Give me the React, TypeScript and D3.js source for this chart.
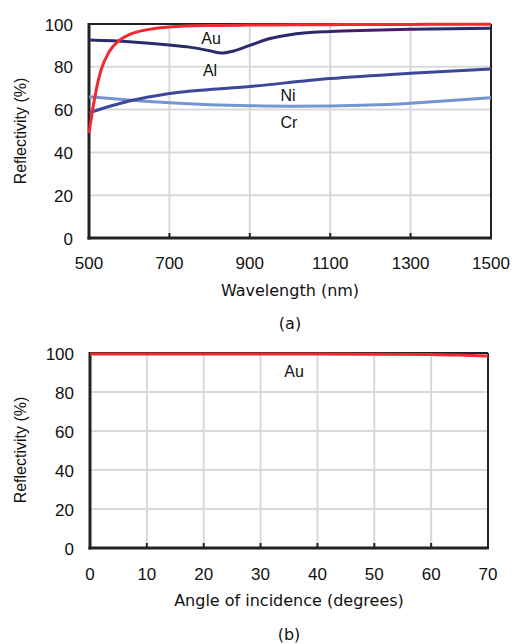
import React from "react";
import * as d3 from "d3";

// (a) reflectivity vs wavelength
const wlTicks = [500, 700, 900, 1100, 1300, 1500];
const reflTicks = [0, 20, 40, 60, 80, 100];

const auWl = [500, 510, 520, 530, 550, 575, 600, 650, 700, 800, 900, 1000, 1100, 1200, 1300, 1400, 1500];
const auRefl = [49, 61, 71, 78.5, 87, 92.3, 95, 97.5, 98.6, 99.3, 99.5, 99.6, 99.7, 99.8, 99.8, 99.9, 99.9];

const alWl = [500, 600, 700, 750, 800, 830, 860, 900, 950, 1000, 1100, 1200, 1300, 1400, 1500];
const alRefl = [92.5, 91.7, 90.2, 89.2, 87.5, 86.4, 87.4, 90, 93.2, 95, 96.5, 97.1, 97.5, 97.8, 98];

const niWl = [500, 600, 700, 900, 1100, 1300, 1500];
const niRefl = [58.5, 64, 67.5, 70.8, 74.5, 77, 79];

const crWl = [500, 600, 700, 800, 900, 1000, 1100, 1200, 1300, 1400, 1500];
const crRefl = [66, 64.5, 63.2, 62.3, 61.8, 61.6, 61.7, 62.1, 63, 64.2, 65.6];

// (b) Au reflectivity vs angle of incidence
const angleTicks = [0, 10, 20, 30, 40, 50, 60, 70];
const auAngle = [0, 10, 20, 30, 40, 50, 60, 65, 70];
const auAngleRefl = [99.5, 99.5, 99.5, 99.5, 99.5, 99.4, 99.2, 99, 98.5];

const tickFont = "'Liberation Sans', Arial, sans-serif";
const titleFont = "'DejaVu Sans', sans-serif";

type Series = { xs: number[]; ys: number[]; color: string };

function Panel(props: {
  x0: number; x1: number; y0: number; y1: number;
  xDomain: [number, number]; xTicks: number[];
  series: Series[];
  labels: { text: string; x: number; y: number }[];
  xTitle: string; caption: string;
  tickY: number; titleY: number; captionY: number; yTitleY: number;
}) {
  const x = d3.scaleLinear().domain(props.xDomain).range([props.x0, props.x1]);
  const y = d3.scaleLinear().domain([0, 100]).range([props.y0, props.y1]);
  const line = d3.line<[number, number]>()
    .x(d => x(d[0]))
    .y(d => y(d[1]))
    .curve(d3.curveMonotoneX);
  const cx = (props.x0 + props.x1) / 2;
  return (
    <g>
      {reflTicks.map(t => (
        <line key={"gy" + t} x1={props.x0} x2={props.x1} y1={y(t)} y2={y(t)} stroke="#d9d9d9" strokeWidth={2} />
      ))}
      {props.xTicks.map(t => (
        <line key={"gx" + t} x1={x(t)} x2={x(t)} y1={props.y0} y2={props.y1} stroke="#d9d9d9" strokeWidth={2} />
      ))}
      {props.xTicks.map(t => (
        <line key={"tk" + t} x1={x(t)} x2={x(t)} y1={props.y0} y2={props.y0 - 5} stroke="#222" strokeWidth={2} />
      ))}
      <line x1={props.x0} x2={props.x1} y1={props.y1} y2={props.y1} stroke="#222" strokeWidth={2} />
      <line x1={props.x1} x2={props.x1} y1={props.y1} y2={props.y0} stroke="#222" strokeWidth={2} />
      <line x1={props.x0} x2={props.x0} y1={props.y1 - 1} y2={props.y0 + 1.5} stroke="#222" strokeWidth={3} />
      <line x1={props.x0 - 1.5} x2={props.x1 + 1} y1={props.y0} y2={props.y0} stroke="#222" strokeWidth={3} />
      {props.series.map((s, i) => (
        <path key={i} d={line(s.xs.map((v, j) => [v, s.ys[j]] as [number, number])) || ""}
          fill="none" stroke={s.color} strokeWidth={3} />
      ))}
      {reflTicks.map(t => (
        <text key={"ly" + t} x={props.x0 - 16} y={y(t) + 6.5} textAnchor="end" fontFamily={tickFont} fontSize={17} fill="#111">{t}</text>
      ))}
      {props.xTicks.map(t => (
        <text key={"lx" + t} x={x(t)} y={props.tickY} textAnchor="middle" fontFamily={tickFont} fontSize={17} fill="#111">{t}</text>
      ))}
      {props.labels.map(l => (
        <text key={l.text} x={l.x} y={l.y} textAnchor="middle" fontFamily={tickFont} fontSize={16} fill="#111">{l.text}</text>
      ))}
      <text x={cx} y={props.titleY} textAnchor="middle" fontFamily={titleFont} fontSize={16} fill="#111">{props.xTitle}</text>
      <text x={cx} y={props.captionY} textAnchor="middle" fontFamily={titleFont} fontSize={16} fill="#111">{props.caption}</text>
      <text transform={`translate(26,${props.yTitleY}) rotate(-90)`} textAnchor="middle" fontFamily={tickFont} fontSize={16} fill="#111">Reflectivity (%)</text>
    </g>
  );
}

export default function App() {
  const red = "#ee2a2e";
  return (
    <svg width={515} height={644} style={{ position: "absolute", left: 0, top: 0, background: "#fff" }}>
      <Panel x0={89} x1={491} y0={238} y1={24} xDomain={[500, 1500]} xTicks={wlTicks}
        series={[
          { xs: crWl, ys: crRefl, color: "#7396d0" },
          { xs: niWl, ys: niRefl, color: "#3c4799" },
          { xs: alWl, ys: alRefl, color: "#2b2a6a" },
          { xs: auWl, ys: auRefl, color: red },
        ]}
        labels={[
          { text: "Au", x: 211, y: 44 },
          { text: "Al", x: 210, y: 76 },
          { text: "Ni", x: 288, y: 101 },
          { text: "Cr", x: 289, y: 128 },
        ]}
        xTitle="Wavelength (nm)" caption="(a)"
        tickY={269} titleY={296} captionY={329} yTitleY={131} />
      <Panel x0={90} x1={488} y0={548} y1={353} xDomain={[0, 70]} xTicks={angleTicks}
        series={[{ xs: auAngle, ys: auAngleRefl, color: red }]}
        labels={[{ text: "Au", x: 294, y: 377 }]}
        xTitle="Angle of incidence (degrees)" caption="(b)"
        tickY={580} titleY={606} captionY={640} yTitleY={450} />
    </svg>
  );
}
